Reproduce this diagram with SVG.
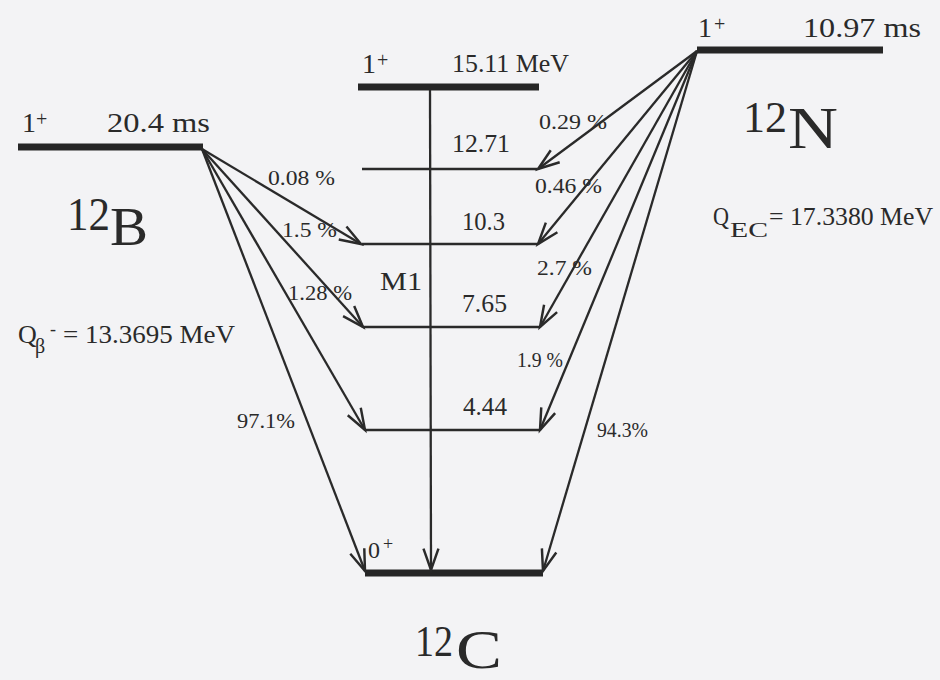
<svg xmlns="http://www.w3.org/2000/svg" width="940" height="680" viewBox="0 0 940 680">
<defs>
<style>
text{font-family:"Liberation Serif","DejaVu Serif",serif;fill:#2a2a2a}
.hd{font-size:28px}
.en{font-size:26px}
.pc{font-size:20px}
.sup{font-size:20px}
.thick{stroke:#262626;stroke-width:7;fill:none}
.thin{stroke:#2a2a2a;stroke-width:2.5;fill:none}
.arr{stroke:#2a2a2a;stroke-width:2.3;fill:none;marker-end:url(#ah)}
</style>
<marker id="ah" markerUnits="userSpaceOnUse" markerWidth="30" markerHeight="30" viewBox="-24 -12 28 24" refX="0" refY="0" orient="auto">
<path d="M-20,-7 L0,0 L-20,7" fill="none" stroke="#2a2a2a" stroke-width="2.3"/>
</marker>
</defs>
<rect width="940" height="680" fill="#f3f3f5"/>

<g id="B12">
<line class="thick" x1="18" y1="147" x2="203" y2="147"/>
<text class="hd" x="22" y="132">1<tspan class="sup" x="36" y="126">+</tspan></text>
<text class="hd" x="107" y="132" textLength="103" lengthAdjust="spacingAndGlyphs">20.4 ms</text>
<text x="67" y="230" font-size="46" textLength="43" lengthAdjust="spacingAndGlyphs">12</text>
<text x="110" y="245" font-size="54" textLength="38" lengthAdjust="spacingAndGlyphs">B</text>
<text class="en" x="18" y="343">Q<tspan x="35" y="353" font-size="20">β</tspan><tspan x="50" y="335" font-size="18">-</tspan></text>
<text class="en" x="63" y="343" textLength="172" lengthAdjust="spacingAndGlyphs">= 13.3695 MeV</text>
</g>

<g id="N12">
<line class="thick" x1="697" y1="50" x2="883" y2="50"/>
<text class="hd" x="698" y="37">1<tspan class="sup" x="714" y="31">+</tspan></text>
<text class="hd" x="803" y="37" textLength="118" lengthAdjust="spacingAndGlyphs">10.97 ms</text>
<text x="743" y="132" font-size="44" textLength="44" lengthAdjust="spacingAndGlyphs">12</text>
<text x="788" y="148" font-size="60" textLength="50" lengthAdjust="spacingAndGlyphs">N</text>
<text class="en" x="713" y="225" textLength="16" lengthAdjust="spacingAndGlyphs">Q</text>
<text x="730" y="237" font-size="21" textLength="38" lengthAdjust="spacingAndGlyphs">EC</text>
<text class="en" x="769" y="225" textLength="164" lengthAdjust="spacingAndGlyphs">= 17.3380 MeV</text>
</g>

<g id="C15">
<line class="thick" x1="358" y1="87" x2="539" y2="87"/>
<text class="hd" x="362" y="73">1<tspan class="sup" x="377" y="67">+</tspan></text>
<text class="en" x="452" y="72" textLength="117" lengthAdjust="spacingAndGlyphs">15.11 MeV</text>
<text class="en" x="380" y="290" textLength="42" lengthAdjust="spacingAndGlyphs">M1</text>
</g>

<g id="C1271">
<line class="thin" x1="362" y1="169" x2="537" y2="169"/>
<text class="en" x="452" y="152" textLength="58" lengthAdjust="spacingAndGlyphs">12.71</text>
</g>

<g id="C103">
<line class="thin" x1="362" y1="244" x2="537" y2="244"/>
<text class="en" x="462" y="230" textLength="43" lengthAdjust="spacingAndGlyphs">10.3</text>
</g>

<g id="C765">
<line class="thin" x1="363" y1="327" x2="540" y2="327"/>
<text class="en" x="462" y="312" textLength="45" lengthAdjust="spacingAndGlyphs">7.65</text>
</g>

<g id="C444">
<line class="thin" x1="365" y1="430" x2="540" y2="430"/>
<text class="en" x="463" y="415" textLength="44" lengthAdjust="spacingAndGlyphs">4.44</text>
</g>

<g id="C0">
<line class="thick" x1="365" y1="573" x2="543" y2="573"/>
<text x="368" y="558" font-size="24">0<tspan x="383" y="550" font-size="18">+</tspan></text>
<text x="415" y="656" font-size="44" textLength="38" lengthAdjust="spacingAndGlyphs">12</text>
<text x="456" y="668" font-size="54" textLength="46" lengthAdjust="spacingAndGlyphs">C</text>
</g>

<g id="connectors">
<line class="arr" x1="202" y1="149" x2="361" y2="244"/>
<line class="arr" x1="202" y1="149" x2="363" y2="327"/>
<line class="arr" x1="202" y1="149" x2="365" y2="430"/>
<line class="arr" x1="202" y1="149" x2="365" y2="571"/>
<line class="arr" x1="697" y1="51" x2="538" y2="169"/>
<line class="arr" x1="697" y1="51" x2="538" y2="244"/>
<line class="arr" x1="697" y1="51" x2="540" y2="327"/>
<line class="arr" x1="697" y1="51" x2="540" y2="430"/>
<line class="arr" x1="697" y1="51" x2="543" y2="571"/>
<line class="arr" x1="430" y1="90" x2="431" y2="570"/>
<text class="pc" x="268" y="185" textLength="67" lengthAdjust="spacingAndGlyphs">0.08 %</text>
<text class="pc" x="282" y="237" textLength="55" lengthAdjust="spacingAndGlyphs">1.5 %</text>
<text class="pc" x="288" y="300" textLength="64" lengthAdjust="spacingAndGlyphs">1.28 %</text>
<text class="pc" x="237" y="428" textLength="58" lengthAdjust="spacingAndGlyphs">97.1%</text>
<text class="pc" x="539" y="129" textLength="68" lengthAdjust="spacingAndGlyphs">0.29 %</text>
<text class="pc" x="535" y="193" textLength="67" lengthAdjust="spacingAndGlyphs">0.46 %</text>
<text class="pc" x="537" y="275" textLength="55" lengthAdjust="spacingAndGlyphs">2.7 %</text>
<text class="pc" x="517" y="367" textLength="46" lengthAdjust="spacingAndGlyphs">1.9 %</text>
<text class="pc" x="597" y="437" textLength="51" lengthAdjust="spacingAndGlyphs">94.3%</text>
</g>
</svg>
